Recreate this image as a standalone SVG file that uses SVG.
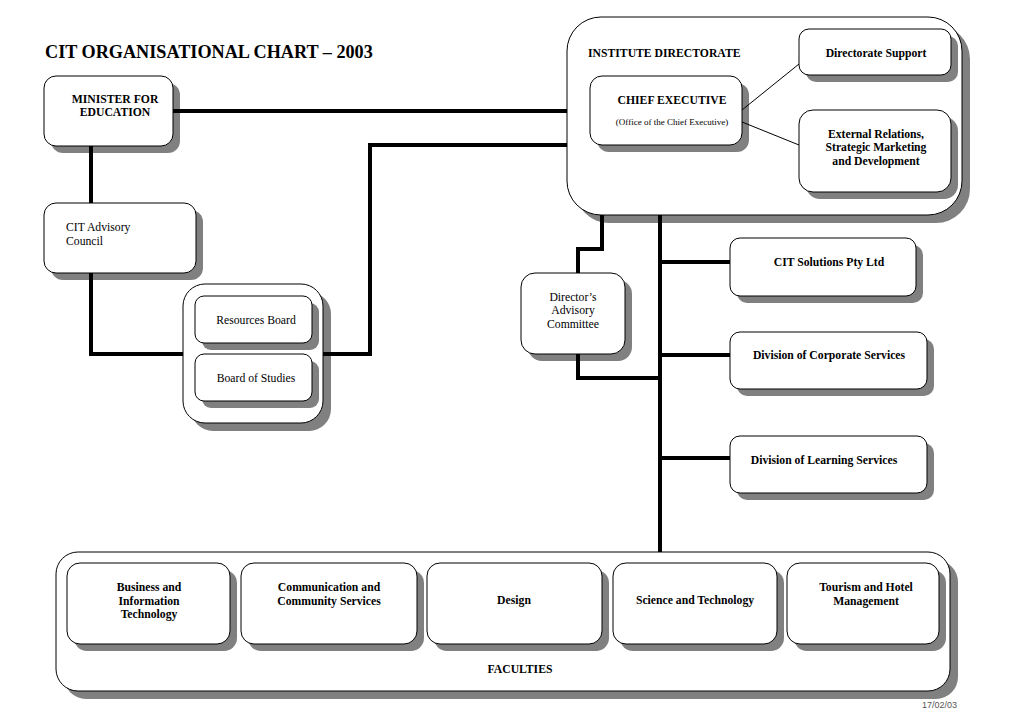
<svg xmlns="http://www.w3.org/2000/svg" width="1019" height="728" viewBox="0 0 1019 728">
<style>
.sh{fill:#808080;stroke:none}
.bx{fill:#fff;stroke:#000;stroke-width:1}
.t{font-family:"Liberation Serif","Times New Roman",serif;font-size:11.7px;fill:#000}
.b{font-weight:bold}
.m{text-anchor:middle}
.ln{fill:none;stroke:#000;stroke-width:4}
.th{fill:none;stroke:#000;stroke-width:1}
</style>
<rect width="1019" height="728" fill="#fff"/>
<text x="45" y="58" class="t b" style="font-size:18.2px">CIT ORGANISATIONAL CHART – 2003</text>

<g id="institute-directorate">
<rect x="575" y="25" width="395" height="198" rx="34" class="sh"/>
<rect x="567" y="17" width="395" height="198" rx="34" class="bx"/>
<text x="588" y="57" class="t b">INSTITUTE DIRECTORATE</text>
</g>
<g id="chief-executive">
<rect x="597" y="83" width="152" height="69" rx="12" class="sh"/>
<rect x="590" y="76" width="152" height="69" rx="12" class="bx"/>
<text x="672" y="104" class="t b m">CHIEF EXECUTIVE</text>
<text x="672" y="125" class="t m" style="font-size:9px">(Office of the Chief Executive)</text>
</g>
<g id="directorate-support">
<rect x="806" y="36" width="152" height="46" rx="10" class="sh"/>
<rect x="799" y="29" width="152" height="46" rx="10" class="bx"/>
<text x="876" y="57" class="t b m">Directorate Support</text>
</g>
<g id="external-relations">
<rect x="806" y="117" width="152" height="82" rx="14" class="sh"/>
<rect x="799" y="110" width="152" height="82" rx="14" class="bx"/>
<text x="876" y="138" class="t b m">External Relations,</text>
<text x="876" y="151" class="t b m">Strategic Marketing</text>
<text x="876" y="165" class="t b m">and Development</text>
</g>

<g id="minister">
<rect x="51" y="83" width="129" height="70" rx="12" class="sh"/>
<rect x="44" y="76" width="129" height="70" rx="12" class="bx"/>
<text x="115" y="103" class="t b m">MINISTER FOR</text>
<text x="115" y="116" class="t b m">EDUCATION</text>
</g>
<g id="advisory-council">
<rect x="51" y="210" width="152" height="70" rx="12" class="sh"/>
<rect x="44" y="203" width="152" height="70" rx="12" class="bx"/>
<text x="66" y="231" class="t">CIT Advisory</text>
<text x="66" y="245" class="t">Council</text>
</g>

<g id="boards">
<rect x="191" y="292" width="140" height="139" rx="22" class="sh"/>
<rect x="183" y="284" width="140" height="139" rx="22" class="bx"/>
</g>
<g id="resources-board">
<rect x="202" y="303" width="117" height="47" rx="9" class="sh"/>
<rect x="195" y="296" width="117" height="47" rx="9" class="bx"/>
<text x="256" y="324" class="t m">Resources Board</text>
</g>
<g id="board-of-studies">
<rect x="202" y="361" width="117" height="47" rx="9" class="sh"/>
<rect x="195" y="354" width="117" height="47" rx="9" class="bx"/>
<text x="256" y="382" class="t m">Board of Studies</text>
</g>

<g id="directors-advisory">
<rect x="528" y="280" width="104" height="81" rx="14" class="sh"/>
<rect x="521" y="273" width="104" height="81" rx="14" class="bx"/>
<text x="573" y="301" class="t m">Director’s</text>
<text x="573" y="314" class="t m">Advisory</text>
<text x="573" y="328" class="t m">Committee</text>
</g>

<g id="cit-solutions">
<rect x="737" y="245" width="186" height="58" rx="10" class="sh"/>
<rect x="730" y="238" width="186" height="58" rx="10" class="bx"/>
<text x="829" y="266" class="t b m">CIT Solutions Pty Ltd</text>
</g>
<g id="corporate-services">
<rect x="737" y="339" width="197" height="57" rx="10" class="sh"/>
<rect x="730" y="332" width="197" height="57" rx="10" class="bx"/>
<text x="829" y="359" class="t b m">Division of Corporate Services</text>
</g>
<g id="learning-services">
<rect x="737" y="443" width="197" height="57" rx="10" class="sh"/>
<rect x="730" y="436" width="197" height="57" rx="10" class="bx"/>
<text x="824" y="464" class="t b m">Division of Learning Services</text>
</g>

<g id="faculties">
<rect x="64" y="560" width="894" height="139" rx="22" class="sh"/>
<rect x="56" y="552" width="894" height="139" rx="22" class="bx"/>
<text x="520" y="673" class="t b m">FACULTIES</text>
</g>
<g id="fac-business">
<rect x="74" y="570" width="163" height="81" rx="13" class="sh"/>
<rect x="67" y="563" width="163" height="81" rx="13" class="bx"/>
<text x="149" y="591" class="t b m">Business and</text>
<text x="149" y="605" class="t b m">Information</text>
<text x="149" y="618" class="t b m">Technology</text>
</g>
<g id="fac-communication">
<rect x="248" y="570" width="176" height="81" rx="13" class="sh"/>
<rect x="241" y="563" width="176" height="81" rx="13" class="bx"/>
<text x="329" y="591" class="t b m">Communication and</text>
<text x="329" y="605" class="t b m">Community Services</text>
</g>
<g id="fac-design">
<rect x="434" y="570" width="175" height="81" rx="13" class="sh"/>
<rect x="427" y="563" width="175" height="81" rx="13" class="bx"/>
<text x="514" y="604" class="t b m">Design</text>
</g>
<g id="fac-science">
<rect x="620" y="570" width="164" height="81" rx="13" class="sh"/>
<rect x="613" y="563" width="164" height="81" rx="13" class="bx"/>
<text x="695" y="604" class="t b m">Science and Technology</text>
</g>
<g id="fac-tourism">
<rect x="794" y="570" width="152" height="81" rx="13" class="sh"/>
<rect x="787" y="563" width="152" height="81" rx="13" class="bx"/>
<text x="866" y="591" class="t b m">Tourism and Hotel</text>
<text x="866" y="605" class="t b m">Management</text>
</g>

<g id="connectors">
<path class="ln" d="M173 111 H567"/>
<path class="ln" d="M91 146 V203"/>
<path class="ln" d="M91 273 V354 H183"/>
<path class="ln" d="M567 145 H370 V354 H323"/>
<path class="ln" d="M602 215 V249 H578 V273"/>
<path class="ln" d="M578 354 V378 H660"/>
<path class="ln" d="M660 215 V552"/>
<path class="ln" d="M660 262 H730"/>
<path class="ln" d="M660 355 H730"/>
<path class="ln" d="M660 458 H730"/>
<path class="th" d="M742 110 L799 64"/>
<path class="th" d="M742 122 L799 145"/>
</g>

<text x="957" y="708" style="font-family:'Liberation Sans',Arial,sans-serif;font-size:9px;fill:#555;text-anchor:end">17/02/03</text>
</svg>
